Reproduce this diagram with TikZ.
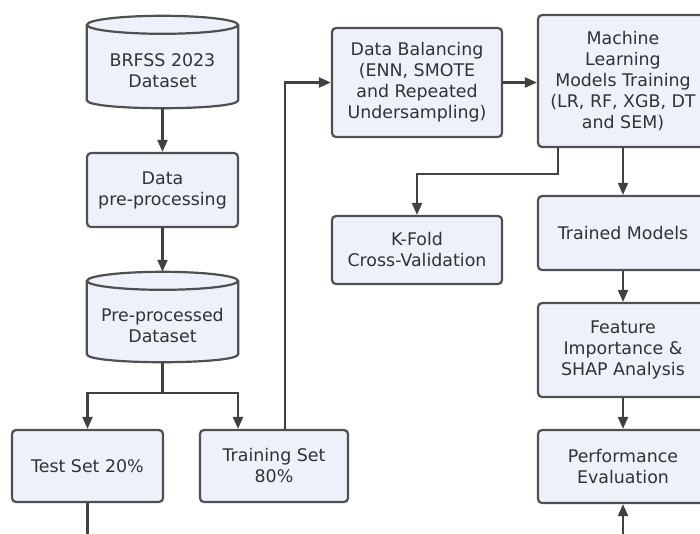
\documentclass[tikz,border=0pt]{standalone}
\usepackage{fontspec}
\setmainfont{DejaVu Sans}
\usetikzlibrary{arrows.meta,backgrounds,calc}
\definecolor{boxfill}{RGB}{237,242,250}
\definecolor{boxline}{RGB}{80,80,80}
\definecolor{txtcol}{RGB}{50,50,50}
\definecolor{arrcol}{RGB}{65,65,65}
\tikzset{
  base/.style={align=center, text=txtcol, font=\fontsize{17.4}{21}\selectfont, inner sep=0pt},
  procbox/.style={base, draw=boxline, fill=boxfill, line width=2.2pt, rounded corners=4pt},
  cylbody/.style={base, minimum width=151pt},
  cylpaint/.style={draw=boxline, fill=boxfill, line width=2.2pt},
  conn/.style={draw=arrcol, line width=2.2pt},
  arr/.style={conn, -{Triangle[length=12pt,width=10pt]}}
}
\begin{document}
\begin{tikzpicture}[x=1pt,y=-1pt]
\useasboundingbox (0,0) rectangle (700,533);
\clip (0,0) rectangle (700,533);
% cylinders (text nodes spanning body)
\node[cylbody, minimum height=74pt] (brfss) at (162.5,71) {BRFSS 2023\\Dataset};
\node[cylbody, minimum height=72pt] (ppd) at (162.5,326) {Pre-processed\\Dataset};
\begin{scope}[on background layer]
\fill[white] (0,0) rectangle (700,533);
\foreach \n in {brfss,ppd}{
  \fill[boxfill] ([yshift=9pt]\n.north west) rectangle ([yshift=8pt]\n.south east);
  \path[cylpaint] ([yshift=9pt]\n.north west) -- ([yshift=8pt]\n.south west)
     .. controls ([yshift=-2.67pt]\n.south west) and ([yshift=-2.67pt]\n.south east) .. ([yshift=8pt]\n.south east)
     -- ([yshift=9pt]\n.north east);
  \path[cylpaint] ([yshift=9pt]\n.north) ellipse [x radius=75.5pt, y radius=9pt];
}
\end{scope}
% boxes
\node[procbox, minimum width=151pt, minimum height=74pt] (pre) at (162.5,190) {Data\\pre-processing};
\node[procbox, minimum width=151pt, minimum height=72pt] (test) at (87.5,466) {Test Set 20\%};
\node[procbox, minimum width=148pt, minimum height=72pt] (train) at (274,466) {Training Set\\80\%};
\node[procbox, minimum width=170pt, minimum height=109pt] (bal) at (417,82.5) {Data Balancing\\(ENN, SMOTE\\and Repeated\\Undersampling)};
\node[procbox, minimum width=170pt, minimum height=68pt] (kfold) at (417,250) {K-Fold\\Cross-Validation};
\node[procbox, minimum width=170pt, minimum height=132pt] (ml) at (623,81) {Machine\\Learning\\Models Training\\(LR, RF, XGB, DT\\and SEM)};
\node[procbox, minimum width=170pt, minimum height=74pt] (trained) at (623,233) {Trained Models};
\node[procbox, minimum width=170pt, minimum height=94pt] (feat) at (623,350) {Feature\\Importance \&\\SHAP Analysis};
\node[procbox, minimum width=170pt, minimum height=73pt] (perf) at (623,466.5) {Performance\\Evaluation};
\coordinate (testout) at (87.5,545);
\coordinate (perfin) at (623,545);
% connectors
\draw[arr] (brfss.south) -- (pre.north);
\draw[arr] (pre.south) -- ([yshift=18pt]ppd.north);
\draw[arr] (ppd.south) -- ++(0,31) -| (test.north);
\draw[arr] (ppd.south) -- ++(0,31) -| ([xshift=-36pt]train.north);
\draw[arr] ([xshift=11pt]train.north) |- (bal.west);
\draw[arr] (bal.east) -- (bal.east -| ml.west);
\draw[arr] ([xshift=-65pt]ml.south) -- ++(0,26) -| (kfold.north);
\draw[arr] (ml.south) -- (trained.north);
\draw[arr] (trained.south) -- (feat.north);
\draw[arr] (feat.south) -- (perf.north);
\draw[conn] (test.south) -- (testout);
\draw[arr] (perfin) -- (perf.south);
\end{tikzpicture}
\end{document}
